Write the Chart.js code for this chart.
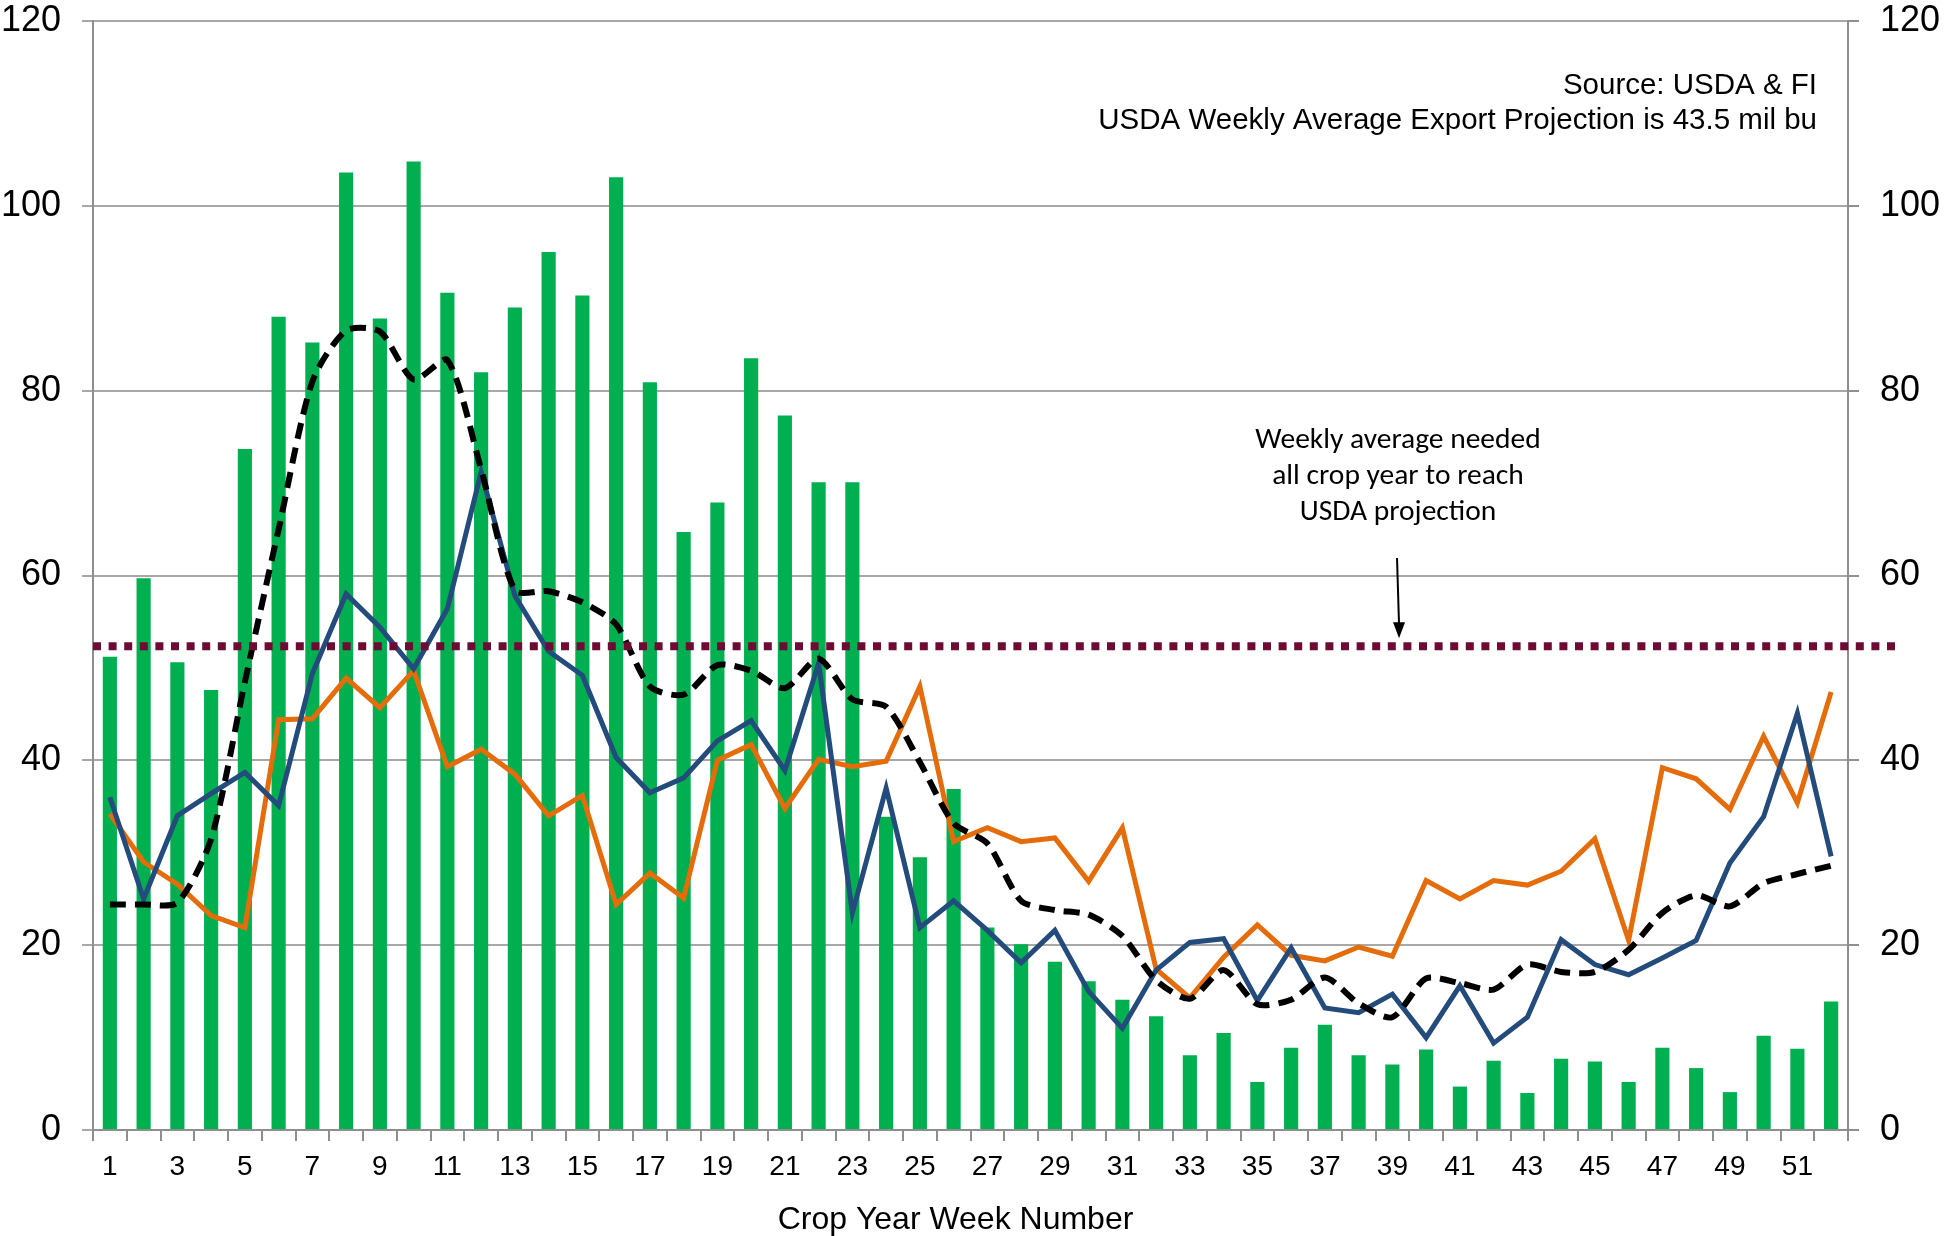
<!DOCTYPE html>
<html>
<head>
<meta charset="utf-8">
<script src="https://cdn.jsdelivr.net/npm/chart.js@4.4.0/dist/chart.umd.min.js"></script>
<style>
  html, body { margin: 0; padding: 0; background: #fff; }
  #wrap { width: 1944px; height: 1236px; }
</style>
</head>
<body>
<div id="wrap"><canvas id="exportChart" width="1944" height="1236"></canvas></div>
<script>
const weeks = [];
for (let i = 1; i <= 52; i++) weeks.push(String(i));

// weekly inspections, current crop year (bars)
const currentYear = [51.2, 59.7, 50.6, 47.6, 73.7, 88.0, 85.2, 103.6, 87.8, 104.8,
    90.6, 82.0, 89.0, 95.0, 90.3, 103.1, 80.9, 64.7, 67.9, 83.5,
    77.3, 70.1, 70.1, 33.9, 29.5, 36.9, 21.9, 20.1, 18.2, 16.1,
    14.1, 12.3, 8.1, 10.5, 5.2, 8.9, 11.4, 8.1, 7.1, 8.7,
    4.7, 7.5, 4.0, 7.7, 7.4, 5.2, 8.9, 6.7, 4.1, 10.2,
    8.8, 13.9];

const blueYear = [36.0, 25.0, 34.0, 36.4, 38.7, 35.1, 49.4, 58.0, 54.4, 49.9,
    56.4, 71.2, 57.8, 51.8, 49.2, 40.3, 36.5, 38.1, 42.1, 44.3,
    38.9, 50.5, 23.5, 37.0, 21.9, 24.8, 21.6, 18.1, 21.6, 15.0,
    11.0, 17.3, 20.3, 20.7, 14.0, 19.7, 13.2, 12.7, 14.7, 10.0,
    15.6, 9.4, 12.2, 20.6, 17.9, 16.8, 18.6, 20.5, 28.9, 33.9,
    45.1, 29.6];

const orangeYear = [34.2, 29.0, 26.6, 23.2, 21.9, 44.4, 44.5, 48.9, 45.7, 49.7,
    39.3, 41.2, 38.5, 34.0, 36.2, 24.4, 27.8, 25.1, 40.0, 41.7,
    34.8, 40.1, 39.3, 39.9, 48.0, 31.2, 32.7, 31.2, 31.6, 26.9,
    32.7, 17.4, 14.3, 18.7, 22.2, 18.9, 18.3, 19.8, 18.8, 27.0,
    25.0, 27.0, 26.5, 28.0, 31.5, 20.5, 39.2, 38.0, 34.7, 42.6,
    35.4, 47.4];

const fiveYearAvg = [24.4, 24.4, 24.6, 31.5, 48.5, 65.0, 81.0, 86.5, 86.4, 81.2,
    83.3, 71.5, 58.4, 58.3, 57.1, 54.7, 48.0, 47.1, 50.3, 49.7,
    47.8, 51.0, 46.6, 45.8, 39.8, 33.2, 31.0, 24.8, 23.8, 23.3,
    21.0, 16.2, 14.2, 17.3, 13.6, 14.1, 16.5, 13.7, 12.2, 16.4,
    15.9, 15.2, 17.9, 17.1, 17.1, 19.5, 23.5, 25.4, 24.2, 26.7,
    27.7, 28.6];

const neededAverage = 52.35;

const axisTitle = "Crop Year Week Number";
const sourceLines = ["Source: USDA & FI", "USDA Weekly Average Export Projection is 43.5 mil bu"];
const noteLines = ["Weekly average needed", "all crop year to reach", "USDA projection"];

const axisColor = "#8e8e8e";
const gridColor = "#a8a8a8";
const sansFont = "'Liberation Sans', Arial, sans-serif";
const noteFont = "Carlito, Lato, 'Open Sans', sans-serif";

const extrasPlugin = {
    id: "extras",
    afterDatasetsDraw(chart) {
        const ctx = chart.ctx;
        const area = chart.chartArea;
        const y = chart.scales.y;
        const yNeed = y.getPixelForValue(neededAverage);

        // dotted "needed" line, runs a bit past the right axis
        ctx.save();
        ctx.strokeStyle = "#6d0b34";
        ctx.lineWidth = 8;
        ctx.setLineDash([8, 7.6]);
        ctx.beginPath();
        ctx.moveTo(area.left, yNeed);
        ctx.lineTo(area.right + 50, yNeed);
        ctx.stroke();
        ctx.restore();

        ctx.save();
        ctx.fillStyle = "#000";
        ctx.textBaseline = "middle";

        // x axis title (sits a little left of centre in the original)
        ctx.font = "32px " + sansFont;
        ctx.textAlign = "center";
        ctx.fillText(axisTitle, (area.left + area.right) / 2 - 15, area.bottom + 90);

        // source text, top right
        ctx.font = "29.5px " + sansFont;
        ctx.textAlign = "right";
        ctx.fillText(sourceLines[0], area.right - 31, area.top + 65);
        ctx.fillText(sourceLines[1], area.right - 31, area.top + 100);

        // note with arrow
        const nx = area.left + 0.7436 * (area.right - area.left);
        ctx.font = "29.5px " + noteFont;
        ctx.textAlign = "center";
        noteLines.forEach((t, i) => ctx.fillText(t, nx, 441 + i * 36));
        ctx.strokeStyle = "#000";
        ctx.lineWidth = 2;
        ctx.beginPath();
        ctx.moveTo(nx - 1, 558);
        ctx.lineTo(nx + 1, yNeed - 22);
        ctx.stroke();
        ctx.beginPath();
        ctx.moveTo(nx + 1, yNeed - 8);
        ctx.lineTo(nx - 5, yNeed - 24);
        ctx.lineTo(nx + 7, yNeed - 24);
        ctx.closePath();
        ctx.fill();
        ctx.restore();
    }
};

// fix the side axes to the reference plot box
function fitSide(width) {
    return function (scale) {
        scale.width = width;
        scale.paddingTop = 0;
        scale.paddingBottom = 0;
    };
}

const ctx = document.getElementById("exportChart").getContext("2d");

new Chart(ctx, {
    type: "bar",
    data: {
        labels: weeks,
        datasets: [
            {
                type: "line",
                label: "5-year average",
                data: fiveYearAvg,
                borderColor: "#000000",
                borderWidth: 6,
                borderDash: [16, 9],
                pointRadius: 0,
                tension: 0.25,
                fill: false,
                order: 1
            },
            {
                type: "line",
                label: "Previous year",
                data: blueYear,
                borderColor: "#234b7c",
                borderWidth: 5,
                pointRadius: 0,
                tension: 0,
                fill: false,
                order: 2
            },
            {
                type: "line",
                label: "Two years ago",
                data: orangeYear,
                borderColor: "#e46c0a",
                borderWidth: 5,
                pointRadius: 0,
                tension: 0,
                fill: false,
                order: 3
            },
            {
                type: "bar",
                label: "Current year",
                data: currentYear,
                backgroundColor: "#00b050",
                borderWidth: 0,
                barPercentage: 0.42,
                categoryPercentage: 1.0,
                order: 4
            }
        ]
    },
    options: {
        responsive: false,
        animation: false,
        devicePixelRatio: 1,
        layout: { padding: { top: 21, bottom: 0, left: 0, right: 0 } },
        plugins: {
            legend: { display: false },
            tooltip: { enabled: false }
        },
        scales: {
            x: {
                offset: true,
                grid: {
                    display: true,
                    offset: true,
                    drawOnChartArea: false,
                    drawTicks: true,
                    tickLength: 11,
                    color: axisColor,
                    lineWidth: 2
                },
                border: { display: true, color: axisColor, width: 2 },
                ticks: {
                    autoSkip: false,
                    maxRotation: 0,
                    padding: 9,
                    color: "#000",
                    font: { family: sansFont, size: 28 },
                    callback: function (value, index) {
                        return index % 2 === 0 ? weeks[index] : "";
                    }
                },
                afterFit(scale) {
                    scale.height = 106;
                    scale.paddingLeft = 0;
                    scale.paddingRight = 0;
                }
            },
            y: {
                position: "left",
                min: 0,
                max: 120,
                ticks: {
                    stepSize: 20,
                    padding: 21,
                    color: "#000",
                    font: { family: sansFont, size: 36 }
                },
                grid: {
                    color: gridColor,
                    lineWidth: 2,
                    tickLength: 11,
                    drawTicks: true
                },
                border: { display: true, color: axisColor, width: 2 },
                afterFit: fitSide(93)
            },
            y2: {
                position: "right",
                min: 0,
                max: 120,
                ticks: {
                    stepSize: 20,
                    padding: 21,
                    color: "#000",
                    font: { family: sansFont, size: 36 }
                },
                grid: {
                    drawOnChartArea: false,
                    color: axisColor,
                    lineWidth: 2,
                    tickLength: 11
                },
                border: { display: true, color: axisColor, width: 2 },
                afterFit: fitSide(96)
            }
        }
    },
    plugins: [extrasPlugin]
});
</script>
</body>
</html>
